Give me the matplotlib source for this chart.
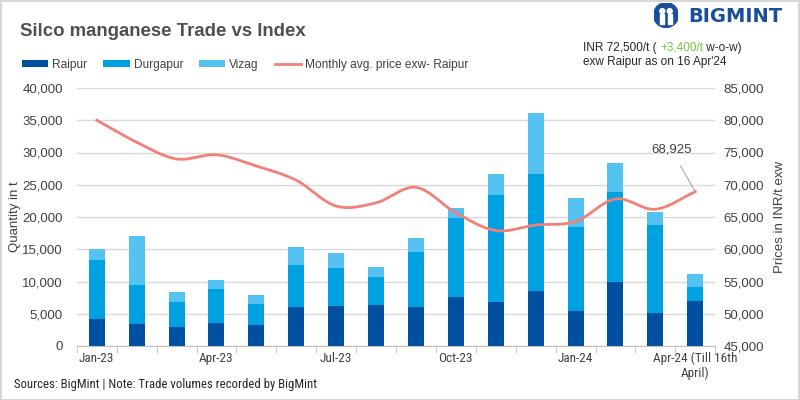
import matplotlib
matplotlib.use("Agg")
import matplotlib.pyplot as plt
from matplotlib.patches import Rectangle, Circle
import numpy as np

# ---------- DATA ----------
months = ["Jan-23", "Feb-23", "Mar-23", "Apr-23", "May-23", "Jun-23", "Jul-23", "Aug-23",
          "Sep-23", "Oct-23", "Nov-23", "Dec-23", "Jan-24", "Feb-24", "Mar-24", "Apr-24"]
tick_labels = ["Jan-23", "", "", "Apr-23", "", "", "Jul-23", "", "", "Oct-23", "", "",
               "Jan-24", "", "", "Apr-24 (Till 16th\nApril)"]
raipur = [4200, 3400, 2950, 3550, 3250, 6050, 6200, 6350,
          6050, 7600, 6800, 8500, 5400, 9900, 5100, 6950]
durgapur = [9100, 6050, 3850, 5250, 3250, 6500, 5900, 4350,
            8550, 12250, 16600, 18200, 13050, 14000, 13650, 2200]
vizag = [1700, 7600, 1600, 1400, 1400, 2800, 2300, 1500,
         2150, 1550, 3300, 9400, 4500, 4500, 2050, 2000]
price = [80000, 76600, 74000, 74650, 72900, 70700, 66700, 67200,
         69600, 65650, 62900, 63750, 64300, 67800, 66200, 68925]

c_raipur = "#0050A2"
c_durg = "#00A1E1"
c_vizag = "#55C3F1"
c_line = "#F08078"
txt = "#404040"

# narrow font if available, else Roboto
narrow = ["Roboto Condensed", "Liberation Sans Narrow", "Open Sans Condensed", "Roboto"]
reg = ["Liberation Sans", "DejaVu Sans"]


def smooth(xs, ys, n=20):
    # Catmull-Rom like Excel smoothed line
    xs = np.asarray(xs, float)
    ys = np.asarray(ys, float)
    px = np.concatenate([[2 * xs[0] - xs[1]], xs, [2 * xs[-1] - xs[-2]]])
    py = np.concatenate([[2 * ys[0] - ys[1]], ys, [2 * ys[-1] - ys[-2]]])
    ox, oy = [], []
    for i in range(1, len(px) - 2):
        t = np.linspace(0, 1, n, endpoint=False)
        for arr, out in ((px, ox), (py, oy)):
            p0, p1, p2, p3 = arr[i - 1], arr[i], arr[i + 1], arr[i + 2]
            out.extend(0.5 * (2 * p1 + (-p0 + p2) * t + (2 * p0 - 5 * p1 + 4 * p2 - p3) * t ** 2
                              + (-p0 + 3 * p1 - 3 * p2 + p3) * t ** 3))
    ox.append(xs[-1])
    oy.append(ys[-1])
    return ox, oy


fig = plt.figure(figsize=(8, 4), dpi=100)
fig.patches.append(Rectangle((0.001, 0.001), 0.998, 0.997, transform=fig.transFigure,
                             fill=False, ec="#D0D0D0", lw=1.2))

ax = fig.add_axes([0.096, 0.135, 0.798, 0.645])
x = np.arange(len(months))
b1 = ax.bar(x, raipur, 0.4, color=c_raipur, zorder=2)
bot = np.array(raipur)
b2 = ax.bar(x, durgapur, 0.4, bottom=bot, color=c_durg, zorder=2)
bot = bot + np.array(durgapur)
b3 = ax.bar(x, vizag, 0.4, bottom=bot, color=c_vizag, zorder=2)

ax.set_xlim(-0.5, len(months) - 0.5)
ax.set_ylim(0, 40000)
ax.set_yticks(np.arange(0, 40001, 5000))
ax.set_yticklabels([f"{v:,}" for v in range(0, 40001, 5000)], family=reg, fontsize=9.5, color=txt)
ax.yaxis.grid(True, color="#D9D9D9", lw=1, zorder=0)
ax.set_axisbelow(True)
for s in ["top", "left", "right"]:
    ax.spines[s].set_visible(False)
ax.spines["bottom"].set_color("#BFBFBF")
ax.tick_params(axis="y", length=0, pad=10)
ax.set_xticks(x)
ax.set_xticklabels(tick_labels, family=narrow, fontsize=9.5, color=txt)
ax.tick_params(axis="x", length=0, pad=4)
ax.set_xticks(np.arange(-0.5, len(months), 1), minor=True)
ax.tick_params(axis="x", which="minor", length=5, color="#BFBFBF")
ax.set_ylabel("Quantity in t", family=reg, fontsize=9.5, color=txt, va="center")
ax.yaxis.set_label_coords(-0.097, 0.5)

ax2 = ax.twinx()
sx, sy = smooth(x, price)
ln, = ax2.plot(sx, sy, color=c_line, lw=2, zorder=3)
ax2.set_ylim(45000, 85000)
ax2.set_yticks(np.arange(45000, 85001, 5000))
ax2.set_yticklabels([f"{v:,}" for v in range(45000, 85001, 5000)], family=reg, fontsize=9.5, color=txt)
for s in ["top", "left", "right", "bottom"]:
    ax2.spines[s].set_visible(False)
ax2.tick_params(axis="y", length=0, pad=6)
ax2.set_ylabel("Prices in INR/t exw", family=reg, fontsize=9.5, color=txt, va="center")
ax2.yaxis.set_label_coords(1.102, 0.5)

ax2.annotate(f"{price[-1]:,}", xy=(x[-1], price[-1]), xytext=(x[-1] - 0.6, 75400),
             ha="center", va="center", fontsize=9.5, family=reg, color=txt,
             arrowprops=dict(arrowstyle="-", color="#A6A6A6", lw=0.8, shrinkA=6, shrinkB=0))

# ---------- TITLE / LEGEND / NOTES ----------
fig.text(0.025, 0.92, "Silco manganese Trade vs Index", family=reg, fontsize=13.4,
         weight="bold", color="#505050", va="center")
fig.legend([b1, b2, b3, ln], ["Raipur", "Durgapur", "Vizag", "Monthly avg. price exw- Raipur"],
           loc="center left", bbox_to_anchor=(0.0275, 0.8375), ncol=4, frameon=False,
           prop={"family": reg, "size": 8.6}, handlelength=2.2, handleheight=0.5,
           columnspacing=1.35, handletextpad=0.33, borderpad=0, borderaxespad=0,
           labelcolor=txt)

# INR note, pieces placed one after another
fig.canvas.draw()
r = fig.canvas.get_renderer()
xx = 0.729
for piece, col in [("INR 72,500/t ( ", "#262626"), ("+3,400/t", "#7DC242"), (" w-o-w)", "#262626")]:
    t = fig.text(xx, 0.88, piece, family=reg, fontsize=8.5, color=col, va="center")
    xx = fig.transFigure.inverted().transform(t.get_window_extent(r))[1][0]
fig.text(0.729, 0.845, "exw Raipur as on 16 Apr'24", family=reg, fontsize=8.5, color="#262626",
         va="center")

# logo
lax = fig.add_axes([0.817, 0.931, 0.031, 0.0625])
lax.set_xlim(0, 1)
lax.set_ylim(0, 1)
lax.set_aspect("equal")
lax.axis("off")
lax.add_patch(Circle((0.5, 0.5), 0.5, color="#1A4E9C"))
lax.add_patch(Circle((0.35, 0.66), 0.1, color="white"))
lax.add_patch(Circle((0.65, 0.66), 0.1, color="white"))
lax.add_patch(Rectangle((0.27, 0.16), 0.16, 0.38, color="white"))
lax.add_patch(Rectangle((0.57, 0.16), 0.16, 0.38, color="white"))
fig.text(0.86, 0.96, "BIGMINT", family=["DejaVu Sans"], fontsize=14, weight="bold",
         color="#1A4E9C", va="center")

fig.text(0.018, 0.038, "Sources: BigMint | Note: Trade volumes recorded by BigMint", family=narrow,
         fontsize=9.2, color="#262626", va="center")

fig.savefig("out.png", dpi=100)
